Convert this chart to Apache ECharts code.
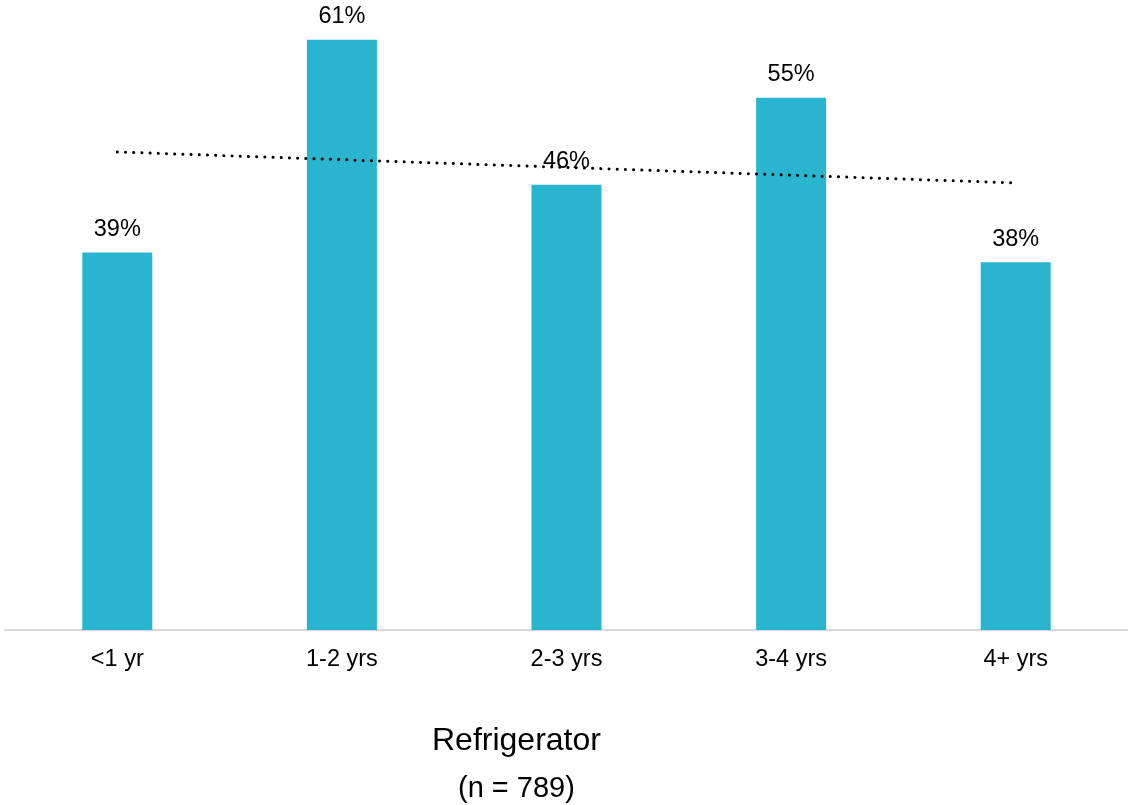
<!DOCTYPE html>
<html>
<head>
<meta charset="utf-8">
<script src="https://cdn.jsdelivr.net/npm/echarts@6/dist/echarts.min.js"></script>
<style>
  html, body { margin: 0; padding: 0; background: #ffffff; }
  #chart { width: 1128px; height: 805px; }
</style>
</head>
<body>
<div id="chart"></div>
<script>
// Share of refrigerator owners by ownership length
const categories = ['<1 yr', '1-2 yrs', '2-3 yrs', '3-4 yrs', '4+ yrs'];
const shares = [39, 61, 46, 55, 38];
// Linear trendline end points (first and last category)
const trendEnds = [49.4, 46.2];
const chartTitle = 'Refrigerator';
const sampleNote = '(n = 789)';

const font = '"Liberation Sans", Arial, sans-serif';
const chart = echarts.init(document.getElementById('chart'), null, { renderer: 'canvas' });

chart.setOption({
  animation: false,
  backgroundColor: '#ffffff',
  grid: { left: 5, right: 0, top: 1, bottom: 175, containLabel: false },
  xAxis: {
    type: 'category',
    data: categories,
    axisLine: { show: true, lineStyle: { color: '#d9d9d9', width: 2 } },
    axisTick: { show: false },
    axisLabel: { color: '#000000', fontSize: 23.5, fontFamily: font, margin: 18 }
  },
  yAxis: {
    type: 'value',
    min: 0,
    max: 65,
    show: false,
    splitLine: { show: false }
  },
  series: [
    {
      type: 'bar',
      data: shares,
      barWidth: 70,
      itemStyle: { color: '#29b5d0' },
      label: {
        show: true,
        position: 'top',
        distance: 11,
        formatter: '{c}%',
        color: '#000000',
        fontSize: 23.5,
        fontFamily: font
      },
      z: 2
    },
    {
      type: 'line',
      data: [[0, trendEnds[0]], [categories.length - 1, trendEnds[1]]],
      symbol: 'none',
      lineStyle: { color: '#000000', width: 3, type: [0.1, 8.1], cap: 'round' },
      z: 5
    }
  ],
  graphic: [
    {
      type: 'text',
      left: 432,
      top: 725,
      style: { text: chartTitle, fill: '#000000', font: '32px ' + font }
    },
    {
      type: 'text',
      left: 458,
      top: 774,
      style: { text: sampleNote, fill: '#000000', font: '29px ' + font }
    }
  ]
});
</script>
</body>
</html>
